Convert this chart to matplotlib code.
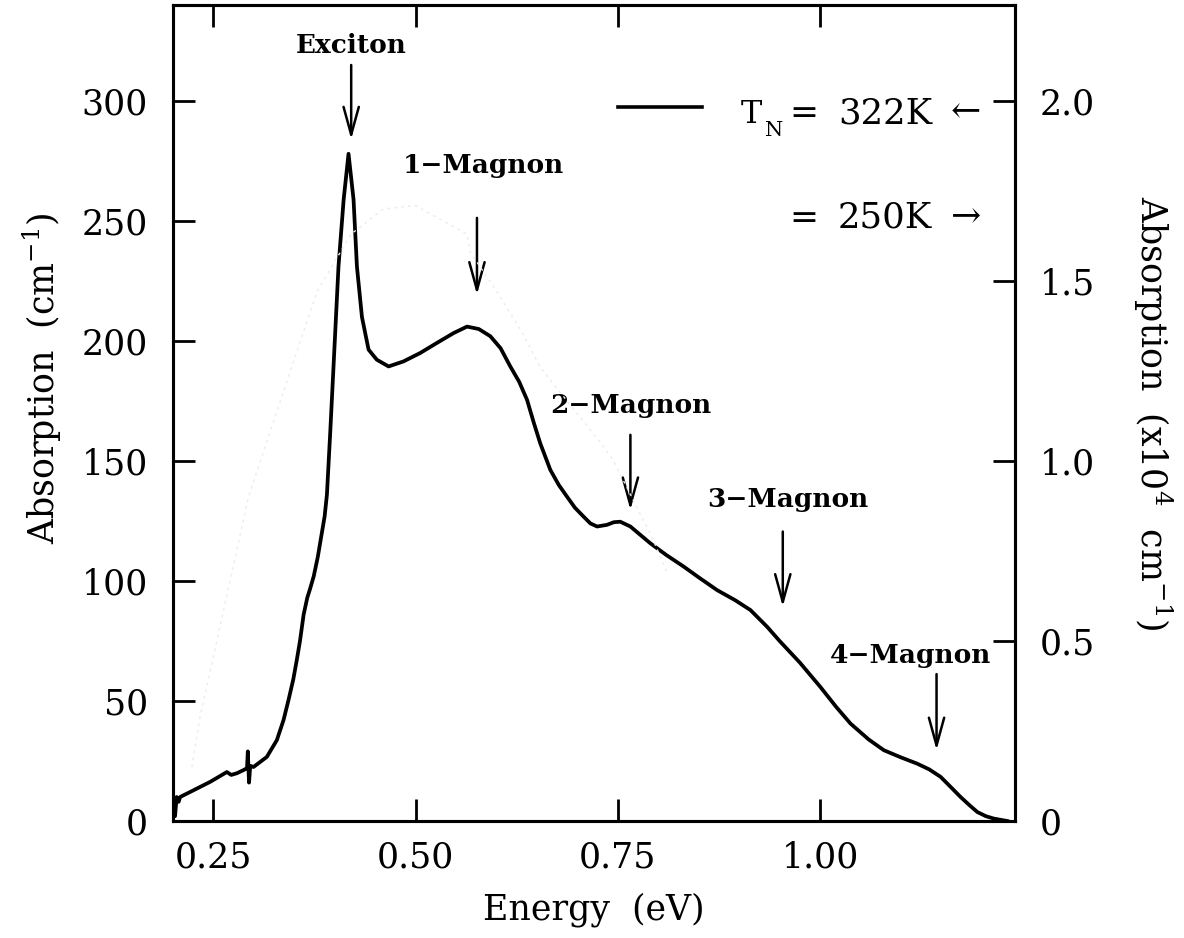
import matplotlib
matplotlib.use("Agg")
import matplotlib.pyplot as plt
import numpy as np

plt.rcParams['font.family'] = ['DejaVu Serif']
plt.rcParams['mathtext.fontset'] = 'dejavuserif'

# ---- data: T_N = 322K (left axis, cm^-1) ----
energy_322 = [0.2005, 0.2025, 0.2045, 0.207, 0.2088, 0.2253, 0.2459, 0.2666, 0.272, 0.279,
              0.2871, 0.2915, 0.2925, 0.2940, 0.2955, 0.2995, 0.316, 0.3284, 0.3366, 0.3428,
              0.3487, 0.353, 0.357, 0.3615, 0.366, 0.3697, 0.374, 0.379, 0.384, 0.3875,
              0.3903, 0.3944, 0.3984, 0.4046, 0.411, 0.417, 0.4232, 0.4274, 0.4336, 0.4418,
              0.452, 0.4665, 0.485, 0.5056, 0.5263, 0.5469, 0.5635, 0.578, 0.5923, 0.605,
              0.617, 0.628, 0.6377, 0.646, 0.654, 0.6665, 0.677, 0.687, 0.697, 0.7077,
              0.716, 0.7243, 0.7366, 0.745, 0.753, 0.7655, 0.7902, 0.81, 0.8314, 0.85,
              0.8727, 0.895, 0.9139, 0.9346, 0.95, 0.975, 1.0, 1.02, 1.0376, 1.06,
              1.0788, 1.10, 1.12, 1.135, 1.149, 1.162, 1.1737, 1.185, 1.1944, 1.205,
              1.2149, 1.2314]
absorb_322 = [9, 2, 10, 8, 10, 12.8, 16.3, 20.4, 19.2, 19.9,
              21.2, 22, 29, 16, 23, 22.5, 26.7, 33.7, 42, 50.4,
              59, 67, 75, 86, 93, 97, 102, 110, 120, 127,
              136, 162, 189, 231, 259, 278, 259, 231, 210, 196.4,
              192.2, 189.4, 191.5, 195, 199.2, 203.3, 206, 205, 202, 197,
              189.4, 183, 175.5, 166, 157.4, 146.3, 140, 135.2, 130.5, 126.8,
              124, 122.7, 123.4, 124.5, 124.7, 122.7, 115.7, 110.8, 106, 101.5,
              96.2, 92, 87.9, 80.9, 75, 66, 56, 47.5, 40.6, 34,
              29.5, 26.5, 23.9, 21.5, 18.4, 14, 10, 6.5, 3.75, 2,
              1, 0]

# ---- data: T_N = 250K (right axis, x10^4 cm^-1), faint trace ----
energy_250 = [0.2233, 0.2335, 0.2933, 0.314, 0.351, 0.378, 0.42, 0.46, 0.4995, 0.5635,
              0.5675, 0.6006, 0.6335, 0.654, 0.7324, 0.7448, 0.7737, 0.79, 0.8108]
absorb_250 = [0.15, 0.29, 0.90, 1.04, 1.29, 1.47, 1.63, 1.70, 1.71, 1.63,
              1.58, 1.47, 1.35, 1.26, 1.04, 1.00, 0.87, 0.80, 0.69]

x_ticks = [0.25, 0.50, 0.75, 1.00]
x_ticklabels = ["0.25", "0.50", "0.75", "1.00"]
left_ticks = [0, 50, 100, 150, 200, 250, 300]
right_ticks = [0, 0.5, 1.0, 1.5, 2.0]
right_ticklabels = ["0", "0.5", "1.0", "1.5", "2.0"]

# annotations: label, text position, arrow tail, arrow tip
ann_labels = ["Exciton", "1\u2212Magnon", "2\u2212Magnon", "3\u2212Magnon", "4\u2212Magnon"]
ann_text_x = [0.4203, 0.5837, 0.7655, 0.9596, 1.112]
ann_text_y = [320, 270, 170, 131, 66]
ann_arrow_x = [0.4203, 0.5758, 0.7655, 0.9539, 1.144]
ann_tail_y = [315, 251.3, 160.9, 120.6, 61.2]
ann_tip_y = [284, 219.3, 129.6, 89.3, 29.5]

W, H = 1184, 938
fig = plt.figure(figsize=(W / 100, H / 100), dpi=100)
L, R, T, B = 173, 1015, 5, 821
ax = fig.add_axes([L / W, (H - B) / H, (R - L) / W, (B - T) / H])
ax.set_xlim(0.2, 1.241)
ax.set_ylim(0, 340)

ax2 = ax.twinx()
ax2.set_ylim(0, 340 / 150)

ax2.plot(energy_250, absorb_250, color='#ececec', lw=1.0, ls=(0, (2, 3)))
ax.plot(energy_322, absorb_322, color='black', lw=2.7, solid_joinstyle='round')

for a in (ax, ax2):
    for s in a.spines.values():
        s.set_linewidth(2.2)

ax.set_xticks(x_ticks)
ax.set_xticklabels(x_ticklabels)
ax.set_yticks(left_ticks)
ax.tick_params(axis='both', direction='in', length=16, width=2, labelsize=25)
ax.tick_params(axis='x', top=True, pad=14)
ax.tick_params(axis='y', right=False, pad=18)
ax2.set_yticks(right_ticks)
ax2.set_yticklabels(right_ticklabels)
ax2.tick_params(axis='y', direction='in', length=16, width=2, labelsize=25, pad=18)

ax.set_xlabel("Energy  (eV)", fontsize=25, labelpad=13)
ax.set_ylabel("Absorption  (cm$^{-1}$)", fontsize=25)
ax.yaxis.set_label_coords(-0.129, 0.543)
ax2.set_ylabel("Absorption  (x10$^{4}$  cm$^{-1}$)", fontsize=25, rotation=270)
ax2.yaxis.set_label_coords(1.189, 0.50)

for lab, tx, ty, axx, yt, yp in zip(ann_labels, ann_text_x, ann_text_y,
                                     ann_arrow_x, ann_tail_y, ann_tip_y):
    ax.text(tx, ty, lab, ha='center', va='baseline', fontsize=19, fontweight='bold')
    ax.annotate('', xy=(axx, yp), xytext=(axx, yt),
                arrowprops=dict(arrowstyle='->, head_length=0.8, head_width=0.22',
                                mutation_scale=25, lw=1.8, color='black',
                                shrinkA=0, shrinkB=0))

def fx(px):
    return (px - L) / (R - L)

def fy(py):
    return (B - py) / (B - T)

# legend-like block
ax.plot([fx(618), fx(702)], [fy(106.7), fy(106.7)], transform=ax.transAxes,
        color='black', lw=2.6)
ax.text(fx(741), fy(123), "T", transform=ax.transAxes, fontsize=23, va='baseline')
ax.text(fx(765), fy(136), "N", transform=ax.transAxes, fontsize=15, va='baseline')
for yb, val, arr in [(123, "322K", "\u2190"), (228, "250K", "\u2192")]:
    ax.text(fx(789), fy(yb), "=", transform=ax.transAxes, fontsize=25, va='baseline')
    ax.text(fx(838), fy(yb), val, transform=ax.transAxes, fontsize=25.5, va='baseline')
    ax.text(fx(951), fy(yb - 1), arr, transform=ax.transAxes, fontsize=26, va='baseline')

fig.savefig("out.png", dpi=100)
